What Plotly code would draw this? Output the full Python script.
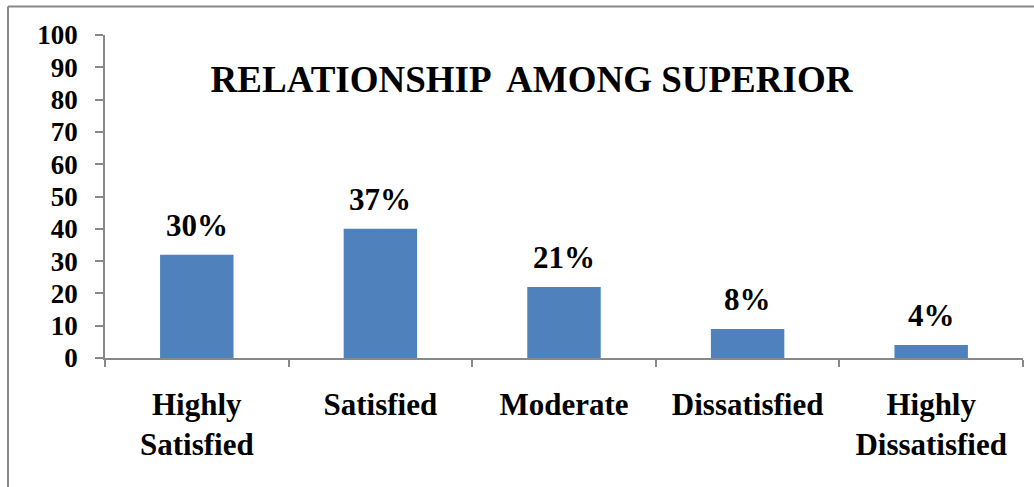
import plotly.graph_objects as go

categories = ["Highly<br>Satisfied", "Satisfied", "Moderate", "Dissatisfied", "Highly<br>Dissatisfied"]
values = [32, 40, 22, 9, 4]
percent_labels = ["30%", "37%", "21%", "8%", "4%"]
title_text = "RELATIONSHIP  AMONG SUPERIOR"

FONT = "Times New Roman, Liberation Serif, DejaVu Serif, serif"
AXIS_COLOR = "#888888"
BAR_COLOR = "#4F81BD"

fig = go.Figure()
fig.add_trace(go.Bar(x=categories, y=values, marker=dict(color=BAR_COLOR, line=dict(width=0)),
                     showlegend=False, hoverinfo="skip"))

for c, v, t in zip(categories, values, percent_labels):
    fig.add_annotation(x=c, y=v, text=f"<b>{t}</b>", showarrow=False, yanchor="bottom",
                       yshift=10, font=dict(family=FONT, size=31, color="black"))

# outer chart border (top and left visible)
fig.add_shape(type="line", xref="paper", yref="paper", x0=(8 - 105) / 918, x1=1.02,
              y0=(357.7 - 7) / 322.2, y1=(357.7 - 7) / 322.2, line=dict(color=AXIS_COLOR, width=2))
fig.add_shape(type="line", xref="paper", yref="paper", x0=(8 - 105) / 918, x1=(8 - 105) / 918,
              y0=(357.7 - 7) / 322.2, y1=-0.45, line=dict(color=AXIS_COLOR, width=2))

fig.update_layout(
    width=1034, height=487,
    margin=dict(l=105, r=11, t=35, b=129),
    paper_bgcolor="white", plot_bgcolor="white",
    bargap=0.6,
    title=dict(text=f"<b>{title_text}</b>", font=dict(family=FONT, size=37, color="black"),
               xref="container", x=531.5 / 1034, xanchor="center",
               yref="container", y=1 - 79 / 487, yanchor="middle"),
    font=dict(family=FONT, color="black"),
)
fig.update_xaxes(type="category", tickson="boundaries", ticks="outside", ticklen=7,
                 tickcolor=AXIS_COLOR, tickwidth=1.5, showline=True, linecolor=AXIS_COLOR,
                 linewidth=1.5, showgrid=False, tickfont=dict(family=FONT, size=31, color="black"),
                 tickprefix="<b>", ticksuffix="</b>", ticklabelstandoff=18, tickangle=0)
fig.update_yaxes(range=[0, 100], dtick=10, ticks="outside", ticklen=8, tickcolor=AXIS_COLOR,
                 tickwidth=1.5, showline=True, linecolor=AXIS_COLOR, linewidth=1.5,
                 showgrid=False, zeroline=False, tickfont=dict(family=FONT, size=27, color="black"),
                 tickprefix="<b>", ticksuffix="</b>", ticklabelstandoff=12)

fig.write_html("out.html")
